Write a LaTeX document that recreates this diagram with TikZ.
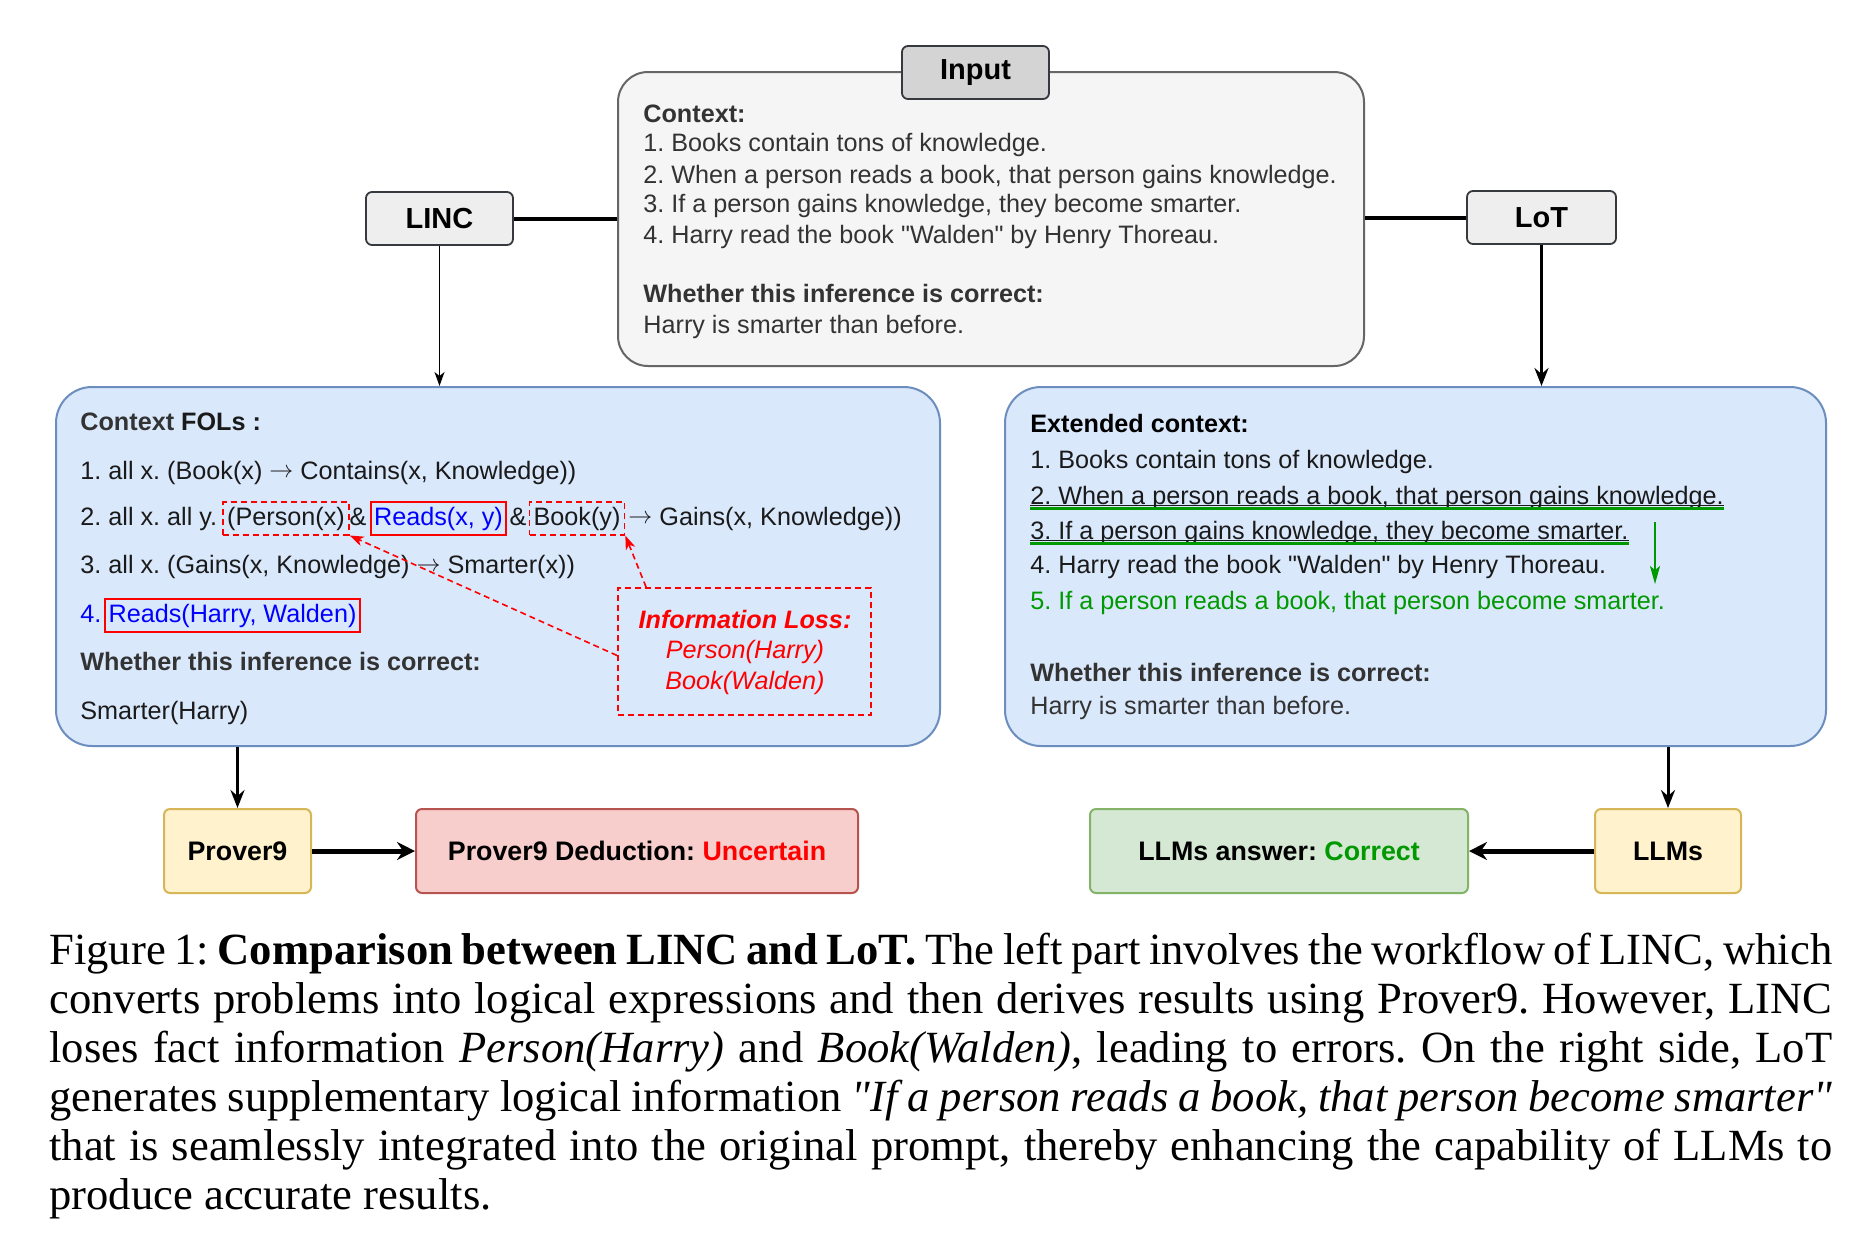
\documentclass[tikz,border=0pt]{standalone}
\usepackage{fontspec}
\newfontfamily\capfont{Liberation Serif}
\newfontfamily\diagfont{Liberation Sans}
\usetikzlibrary{arrows.meta,calc}
\definecolor{bluefill}{HTML}{DAE8FC}
\definecolor{bluedraw}{HTML}{6C8EBF}
\definecolor{yelfill}{HTML}{FFF2CC}
\definecolor{yeldraw}{HTML}{D6B656}
\definecolor{redfill}{HTML}{F8CECC}
\definecolor{reddraw}{HTML}{B85450}
\definecolor{grnfill}{HTML}{D5E8D4}
\definecolor{grndraw}{HTML}{82B366}
\definecolor{ctxfill}{HTML}{F5F5F5}
\definecolor{ctxdraw}{HTML}{666666}
\definecolor{labfill}{HTML}{D4D4D4}
\definecolor{lincfill}{HTML}{EEEEEE}
\definecolor{darkline}{HTML}{36393D}
\definecolor{txtgray}{HTML}{333333}
\definecolor{txtblack}{HTML}{1A1A1A}
\definecolor{mygreen}{HTML}{009900}
\definecolor{myred}{HTML}{FF0000}
\definecolor{myblue}{HTML}{0000FF}
\newcommand{\myarr}{\raisebox{0.6pt}{$\rightarrow$}}
\frenchspacing
\begin{document}
\begin{tikzpicture}[x=0.5pt,y=-0.5pt,
  bodyfont/.style={font=\diagfont\fontsize{12.6}{15}\selectfont},
  txt/.style={bodyfont, anchor=base west, inner sep=0pt, text=txtblack},
  ctxt/.style={txt, text=txtgray},
  hdr/.style={txt, font=\diagfont\bfseries\fontsize{12.6}{15}\selectfont},
  labbox/.style={draw=darkline, line width=0.9pt, rounded corners=3pt, inner sep=0pt,
    font=\diagfont\bfseries\fontsize{14.5}{17}\selectfont, text=black},
  bigbox/.style={draw=bluedraw, fill=bluefill, line width=1pt, rounded corners=18pt, inner sep=0pt},
  resbox/.style={line width=1pt, rounded corners=3pt, inner sep=0pt,
    font=\diagfont\bfseries\fontsize{13.4}{16}\selectfont, text=black},
  dbox/.style={bodyfont, draw=myred, dashed, dash pattern=on 3pt off 2pt, line width=0.9pt,
    inner xsep=2pt, inner ysep=2.2pt, text=txtblack},
  sbox/.style={bodyfont, draw=myred, line width=0.9pt, inner xsep=1.6pt, inner ysep=2.2pt, text=myblue},
  thickline/.style={line width=2pt, black},
  arrthin/.style={line width=0.8pt, -{Stealth[length=7pt,width=5pt,inset=2pt]}},
  arrmed/.style={line width=1.5pt, -{Stealth[length=9pt,width=7pt,inset=3pt]}},
  arrthick/.style={line width=2.5pt, -{Stealth[length=9pt,width=9pt,inset=3pt]}},
  redarr/.style={myred, line width=0.8pt, dashed, dash pattern=on 3pt off 2pt,
    -{Stealth[length=7pt,width=5pt,inset=2pt,sep=0pt]}},
  grnarr/.style={mygreen, line width=0.8pt, -{Stealth[length=9pt,width=5pt,inset=2pt]}}
]
\useasboundingbox (0,0) rectangle (1874,1244);
\fill[white] (0,0) rectangle (1874,1244);

% ---------- Input box ----------
\node[draw=ctxdraw, fill=ctxfill, line width=1pt, rounded corners=15pt,
  minimum width=373pt, minimum height=147pt, inner sep=0pt] (ctx) at (991,219) {};
\node[labbox, fill=labfill, minimum width=73.5pt, minimum height=26.5pt] (inlab) at (975.5,72.5) {Input};
\node[hdr, text=txtgray] (c0) at (643,122) {Context:};
\node[ctxt] (c1) at (643,151) {1. Books contain tons of knowledge.};
\node[ctxt] (c2) at (643,183) {2. When a person reads a book, that person gains knowledge.};
\node[ctxt] (c3) at (643,212) {3. If a person gains knowledge, they become smarter.};
\node[ctxt] (c4) at (643,243) {4. Harry read the book "Walden" by Henry Thoreau.};
\node[hdr, text=txtgray] (c5) at (643,302) {Whether this inference is correct:};
\node[ctxt] (c6) at (643,333) {Harry is smarter than before.};

% ---------- LINC / LoT ----------
\node[labbox, fill=lincfill, minimum width=73.5pt, minimum height=26.5pt] (linc) at (439.5,218.5) {LINC};
\node[labbox, fill=lincfill, minimum width=74.5pt, minimum height=26.5pt] (lot) at (1541.5,217.5) {LoT};
\draw[thickline] (linc.east) -- (linc.east -| ctx.west);
\draw[thickline] (lot.west) -- (lot.west -| ctx.east);

% ---------- Left box ----------
\node[bigbox, minimum width=442pt, minimum height=179.5pt] (lbox) at (498,566.5) {};
\node[hdr] (l0) at (80,430) {\textcolor{txtgray}{Context} FOLs :};
\node[txt] (l1) at (80,479) {1. all x. (Book(x) \myarr{} Contains(x, Knowledge))};
\node[txt] (l2a) at (80,525) {2. all x. all y.};
\node[dbox, anchor=base] (p1) at (286,525) {(Person(x)};
\node[txt, anchor=base] (amp1) at (358,525) {\&};
\node[sbox, anchor=base] (p2) at (438.5,525) {Reads(x, y)};
\node[txt, anchor=base] (amp2) at (518,525) {\&};
\node[dbox, anchor=base] (p3) at (577,525) {Book(y)};
\node[txt] (l2b) at (628,525) {\myarr{} Gains(x, Knowledge))};
\node[txt] (l3) at (80,573) {3. all x. (Gains(x, Knowledge) \myarr{} Smarter(x))};
\node[txt, text=myblue] (l4a) at (80,622) {4.};
\node[sbox, anchor=base] (p4) at (232.5,622) {Reads(Harry, Walden)};
\node[hdr, text=txtgray] (l5) at (80,670) {Whether this inference is correct:};
\node[txt] (l6) at (80,719) {Smarter(Harry)};

% info loss
\node[draw=myred, dashed, dash pattern=on 3pt off 2pt, line width=0.9pt,
  minimum width=126.5pt, minimum height=63.5pt, inner sep=0pt] (info) at (744.5,651.5) {};
\node[anchor=base, inner sep=0pt, text=myred, font=\diagfont\bfseries\itshape\fontsize{12.6}{15}\selectfont] (i1) at (745,628) {Information Loss:};
\node[anchor=base, inner sep=0pt, text=myred, font=\diagfont\itshape\fontsize{12.6}{15}\selectfont] (i2) at (745,658) {Person(Harry)};
\node[anchor=base, inner sep=0pt, text=myred, font=\diagfont\itshape\fontsize{12.6}{15}\selectfont] (i3) at (745,689) {Book(Walden)};
\draw[redarr] ($(info.north west)+(29,0)$) -- (p3.south east);
\draw[redarr] ($(info.west)+(0,4)$) -- (p1.south east);

% ---------- Right box ----------
\node[bigbox, minimum width=410.5pt, minimum height=179.5pt] (rbox) at (1415.5,566.5) {};
\node[hdr, text=black] (r0) at (1030,432) {Extended context:};
\node[txt] (r1) at (1030,468) {1. Books contain tons of knowledge.};
\node[txt] (r2) at (1030,504) {2. When a person reads a book, that person gains knowledge.};
\node[txt] (r3) at (1030,539) {3. If a person gains knowledge, they become smarter.};
\node[txt] (r4) at (1030,573) {4. Harry read the book "Walden" by Henry Thoreau.};
\node[txt, text=mygreen] (r5) at (1030,609) {5. If a person reads a book, that person become smarter.};
\node[hdr, text=txtgray] (r6) at (1030,681) {Whether this inference is correct:};
\node[txt, text=txtgray] (r7) at (1030,714) {Harry is smarter than before.};
\draw[txtblack, line width=0.6pt] ($(r2.base west)+(0,1.5)$) -- ($(r2.base east)+(0,1.5)$);
\draw[mygreen, line width=1.1pt] ($(r2.base west)+(0,4.5)$) -- ($(r2.base east)+(0,4.5)$);
\draw[txtblack, line width=0.6pt] ($(r3.base west)+(0,1.5)$) -- ($(r3.base east)+(0,1.5)$);
\draw[mygreen, line width=1.1pt] ($(r3.base west)+(0,4.5)$) -- ($(r3.base east)+(0,4.5)$);
\coordinate (g1) at (1655,522);
\coordinate (g2) at (1655,584);
\draw[grnarr] (g1) -- (g2);

\draw[arrthin] (linc.south) -- (linc.south |- lbox.north);
\draw[line width=1.6pt, -{Stealth[length=9pt,width=7pt,inset=3pt]}] (lot.south) -- (lot.south |- rbox.north);

% ---------- Bottom boxes ----------
\node[resbox, draw=yeldraw, fill=yelfill, minimum width=73.5pt, minimum height=42pt] (prov) at (237.5,851) {Prover9};
\node[resbox, draw=reddraw, fill=redfill, minimum width=221pt, minimum height=42pt] (ded) at (637,851) {Prover9 Deduction: \textcolor{myred}{Uncertain}};
\node[resbox, draw=grndraw, fill=grnfill, minimum width=189pt, minimum height=42pt] (ans) at (1279,851) {LLMs answer: \textcolor{mygreen}{Correct}};
\node[resbox, draw=yeldraw, fill=yelfill, minimum width=73pt, minimum height=42pt] (llm) at (1668,851) {LLMs};
\draw[arrmed] (lbox.south -| prov.north) -- (prov.north);
\draw[arrmed] (rbox.south -| llm.north) -- (llm.north);
\draw[arrthick] (prov.east) -- (ded.west);
\draw[arrthick] (llm.west) -- (ans.east);

% ---------- Caption ----------
\node[anchor=base west, inner sep=0pt] (cap) at (49,964) {\parbox[t]{891.5pt}{\capfont\fontsize{22.3}{24.5}\selectfont
Figure 1: \textbf{Comparison between LINC and LoT.} The left part involves the workflow of LINC, which\linebreak
converts problems into logical expressions and then derives results using Prover9. However, LINC\linebreak
loses fact information \textit{Person(Harry)} and \textit{Book(Walden)}, leading to errors. On the right side, LoT\linebreak
generates supplementary logical information \textit{"If a person reads a book, that person become smarter"}\linebreak
that is seamlessly integrated into the original prompt, thereby enhancing the capability of LLMs to\linebreak
produce accurate results.}};
\end{tikzpicture}
\end{document}
